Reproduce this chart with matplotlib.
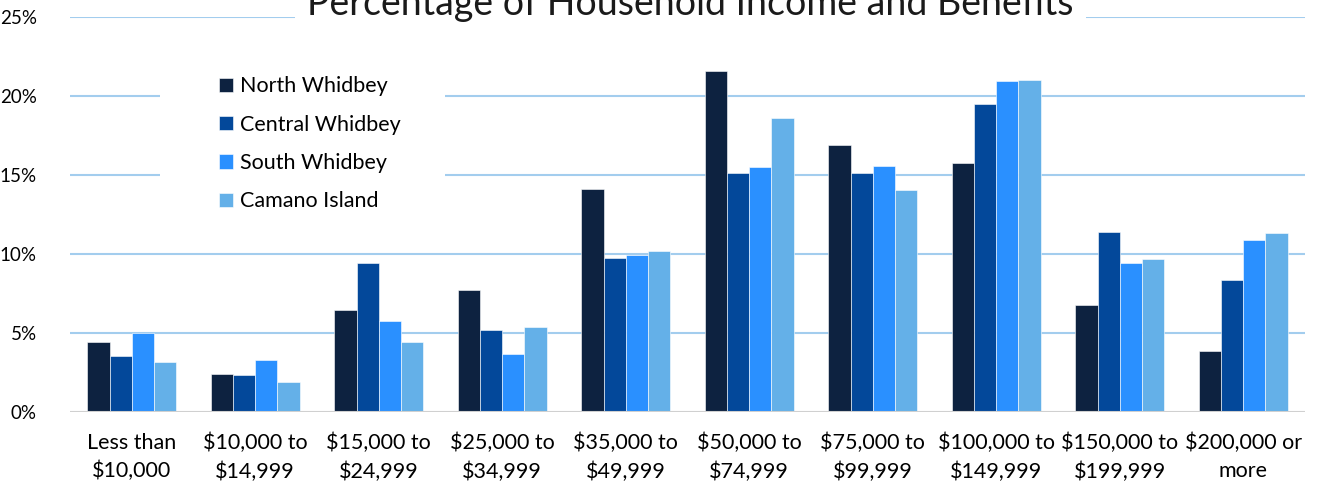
import numpy as np
import matplotlib.pyplot as plt
from matplotlib.patches import Rectangle

plt.rcParams['font.family'] = ['Lato', 'DejaVu Sans']

categories = ['Less than\n$10,000', '$10,000 to\n$14,999', '$15,000 to\n$24,999',
              '$25,000 to\n$34,999', '$35,000 to\n$49,999', '$50,000 to\n$74,999',
              '$75,000 to\n$99,999', '$100,000 to\n$149,999', '$150,000 to\n$199,999',
              '$200,000 or\nmore']
series_names = ['North Whidbey', 'Central Whidbey', 'South Whidbey', 'Camano Island']
north = [4.45, 2.4, 6.45, 7.7, 14.1, 21.6, 16.9, 15.75, 6.8, 3.85]
central = [3.55, 2.35, 9.45, 5.2, 9.75, 15.1, 15.1, 19.5, 11.4, 8.35]
south = [5.0, 3.3, 5.75, 3.65, 9.95, 15.5, 15.55, 20.95, 9.4, 10.9]
camano = [3.15, 1.9, 4.45, 5.4, 10.2, 18.6, 14.05, 21.0, 9.7, 11.35]
colors = ['#0D2240', '#03489A', '#2A90FF', '#64B0E8']

fig = plt.figure(figsize=(13.18, 4.86), dpi=100)
ax = fig.add_axes([70 / 1318, 74 / 486, 1235 / 1318, 395 / 486])

x = np.arange(len(categories))
w = 0.18
for i, (vals, name) in enumerate(zip([north, central, south, camano], series_names)):
    ax.bar(x + (i - 1.5) * w, vals, width=w, color=colors[i], label=name,
           edgecolor='white', linewidth=0.4, zorder=3)

ax.set_xlim(-0.5, len(categories) - 0.5)
ax.set_ylim(0, 25)
ax.set_yticks([0, 5, 10, 15, 20, 25])
ax.set_yticklabels(['0%', '5%', '10%', '15%', '20%', '25%'], fontsize=13.5)
ax.set_xticks(x)
ax.set_xticklabels(categories, fontsize=15.5, linespacing=1.5)
ax.tick_params(length=0)
ax.tick_params(axis='y', pad=24)
ax.tick_params(axis='x', pad=15)
for y in [5, 10, 15, 20, 25]:
    ax.axhline(y, color='#A3CDEE', lw=1.5, zorder=1)
ax.axhline(0, color='#D0D0D0', lw=1.5, zorder=4)
for s in ax.spines.values():
    s.set_visible(False)

# white patch behind the legend (hides gridlines)
ax.add_patch(Rectangle((160, 260), 285, 170, transform=None, facecolor='white',
                       edgecolor='none', zorder=2))
leg = ax.legend(loc='upper left', bbox_to_anchor=(130 / 1235, 1 - 40 / 395),
                frameon=False, fontsize=15.5, handlelength=0.65, handleheight=0.65,
                handletextpad=0.3, labelspacing=0.85)

fig.text(0.524, 471 / 486, 'Percentage of Household Income and Benefits',
         ha='center', va='baseline', fontsize=27, color='#1a1a1a',
         bbox=dict(facecolor='white', edgecolor='none', pad=9))

fig.savefig('out.png', dpi=100)
